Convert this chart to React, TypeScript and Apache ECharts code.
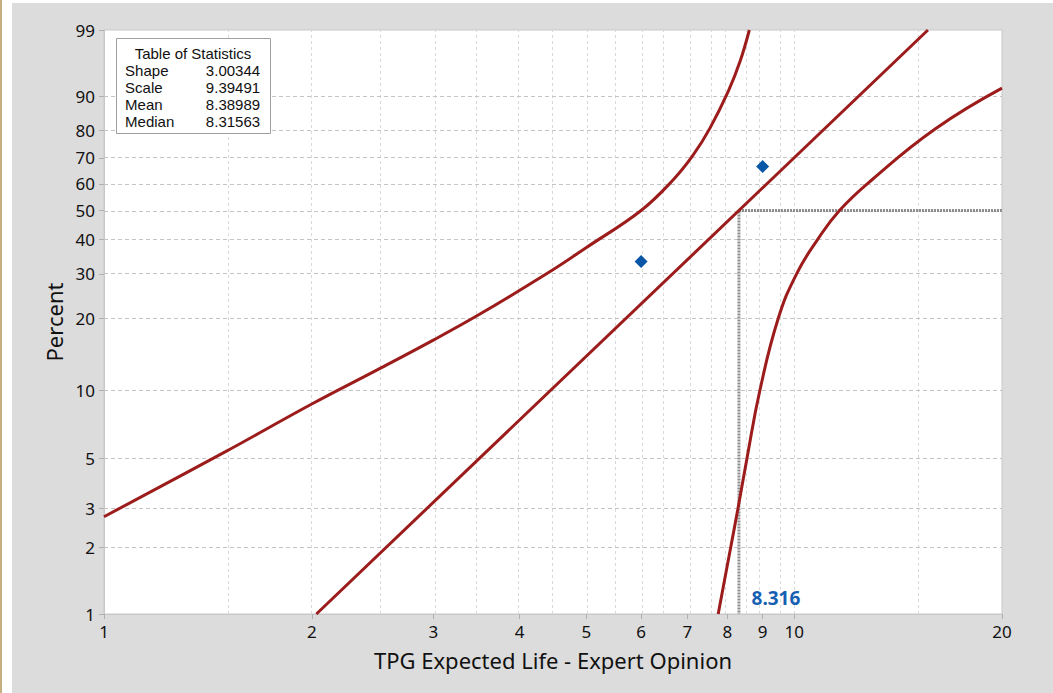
import React, { useEffect, useRef } from "react";
import * as echarts from "echarts";

// Weibull fit statistics
const SHAPE = 3.00344;
const SCALE = 9.39491;
const MEAN = 8.38989;
const MEDIAN = 8.31563;

// Observed failure times and their plotting positions (%)
const failTimes = [6, 9];
const failPercents = [33.33, 66.67];

// 95% confidence bounds (time, percent)
const upperX = [1, 1.5, 2, 2.5, 3, 3.5, 4.43, 5.0, 6.0, 6.68, 7.14, 7.55, 8.03, 8.35, 8.61];
const upperPct = [2.75, 5.37, 8.7, 12.3, 16.3, 20.8, 30.6, 37.5, 50, 61.6, 71.1, 80.7, 91.2, 96.4, 99];
const lowerX = [7.76, 8.09, 8.29, 8.54, 8.92, 9.48, 10.08, 10.81, 11.63, 12.95, 16.0, 20];
const lowerPct = [1, 2, 3, 5, 10, 20, 30, 40, 50, 61.5, 80.4, 91.8];

// Axis ticks and grid positions
const percentTicks = [1, 2, 3, 5, 10, 20, 30, 40, 50, 60, 70, 80, 90, 99];
const timeTicks = [1, 2, 3, 4, 5, 6, 7, 8, 9, 10, 20];
const timeGrid = [1.5, 2, 2.5, 3, 3.5, 4, 4.5, 5, 5.5, 6, 6.5, 7, 7.5, 8, 8.5, 9, 9.5, 10, 15];

const statLabels = ["Shape", "Scale", "Mean", "Median"];
const statValues = [SHAPE, SCALE, MEAN, MEDIAN];

const X_MIN = 1;
const X_MAX = 20;
const P_MIN = 1;
const P_MAX = 99;

// Log-time and Weibull-probability transforms
const lx = (t: number) => Math.log10(t);
const wp = (p: number) => Math.log(-Math.log(1 - p / 100));
const invWp = (v: number) => 100 * (1 - Math.exp(-Math.exp(v)));
const weibullTime = (p: number) => SCALE * Math.pow(-Math.log(1 - p / 100), 1 / SHAPE);

const FONT = "'Noto Sans', sans-serif";
const STAT_FONT = "'Liberation Sans', Arial, sans-serif";
const RED = "#9c1c1c";
const BLUE = "#0a56a6";

export default function App() {
  const ref = useRef<HTMLDivElement>(null);

  useEffect(() => {
    if (!ref.current) return;
    const chart = echarts.init(ref.current, undefined, { renderer: "svg" });

    const fitLine = [P_MIN, P_MAX].map((p) => [lx(weibullTime(p)), wp(p)]);
    const upper = upperX.map((t, i) => [lx(t), wp(upperPct[i])]);
    const lower = lowerX.map((t, i) => [lx(t), wp(lowerPct[i])]);
    const points = failTimes.map((t, i) => [lx(t), wp(failPercents[i])]);
    const medianGuide = [
      [lx(X_MAX), wp(50)],
      [lx(MEDIAN), wp(50)],
      [lx(MEDIAN), wp(P_MIN)],
    ];

    const statFont = `15px ${STAT_FONT}`;
    const ROW = 17;
    const statsChildren: any[] = [
      {
        type: "rect",
        z: 100,
        shape: { x: 0, y: 0, width: 154, height: 95 },
        style: { fill: "#ffffff", stroke: "#a0a0a0", lineWidth: 1 },
      },
      {
        type: "text",
        z: 101,
        x: 76.5,
        y: 15,
        style: {
          text: "Table of Statistics",
          font: statFont,
          fill: "#111",
          align: "center",
          verticalAlign: "middle",
        },
      },
    ];
    statLabels.forEach((lab, i) => {
      const y = 32 + i * ROW;
      statsChildren.push({
        type: "text",
        z: 101,
        x: 8.6,
        y,
        style: { text: lab, font: statFont, fill: "#111", verticalAlign: "middle" },
      });
      statsChildren.push({
        type: "text",
        z: 101,
        x: 143.6,
        y,
        style: {
          text: statValues[i].toFixed(5),
          font: statFont,
          fill: "#111",
          align: "right",
          verticalAlign: "middle",
        },
      });
    });

    chart.setOption({
      animation: false,
      backgroundColor: "#dcdcdc",
      textStyle: { fontFamily: FONT },
      grid: {
        left: 92,
        right: 51,
        top: 27,
        bottom: 79,
        show: true,
        backgroundColor: "#ffffff",
        borderColor: "#c8c8c8",
        borderWidth: 1,
      },
      xAxis: {
        type: "value",
        min: lx(X_MIN),
        max: lx(X_MAX),
        name: "TPG Expected Life - Expert Opinion",
        nameLocation: "middle",
        nameGap: 35,
        nameTextStyle: { fontSize: 22, color: "#111", fontFamily: FONT },
        axisLine: { show: true, onZero: false, lineStyle: { color: "#c8c8c8", width: 1 } },
        axisTick: {
          show: true,
          length: 5,
          lineStyle: { color: "#b0b0b0" },
          customValues: timeTicks.map(lx),
        },
        axisLabel: {
          show: true,
          margin: 9,
          fontSize: 17,
          color: "#111",
          fontFamily: FONT,
          customValues: timeTicks.map(lx),
          formatter: (v: number) => String(Math.round(Math.pow(10, v))),
        },
        splitLine: { show: false },
      },
      yAxis: {
        type: "value",
        min: wp(P_MIN),
        max: wp(P_MAX),
        name: "Percent",
        nameLocation: "middle",
        nameGap: 32,
        nameTextStyle: { fontSize: 22, color: "#111", fontFamily: FONT },
        axisLine: { show: true, onZero: false, lineStyle: { color: "#c8c8c8", width: 1 } },
        axisTick: {
          show: true,
          length: 5,
          lineStyle: { color: "#b0b0b0" },
          customValues: percentTicks.map(wp),
        },
        axisLabel: {
          show: true,
          margin: 9,
          fontSize: 17,
          color: "#111",
          fontFamily: FONT,
          customValues: percentTicks.map(wp),
          formatter: (v: number) => String(Math.round(invWp(v))),
        },
        splitLine: { show: false },
      },
      series: [
        {
          // grid lines
          type: "line",
          data: [[lx(X_MIN), wp(P_MIN)]],
          showSymbol: false,
          symbol: "none",
          lineStyle: { opacity: 0 },
          z: 1,
          silent: true,
          markLine: {
            silent: true,
            z: 1,
            symbol: ["none", "none"],
            label: { show: false },
            animation: false,
            data: [
              ...timeGrid.map((t) => ({
                xAxis: lx(t),
                lineStyle: { color: "#d9d9d9", width: 1, type: [3, 3] },
              })),
              ...percentTicks
                .filter((p) => p !== P_MIN && p !== P_MAX)
                .map((p) => ({
                  yAxis: wp(p),
                  lineStyle: { color: "#c4c4c4", width: 1, type: [4, 3] },
                })),
            ],
          },
        },
        {
          // median guide
          type: "line",
          data: medianGuide,
          symbol: "none",
          z: 2,
          lineStyle: { color: "#8e8e8e", width: 3, type: [2, 1] },
          silent: true,
        },
        {
          type: "line",
          data: fitLine,
          symbol: "none",
          z: 3,
          lineStyle: { color: RED, width: 3 },
        },
        {
          type: "line",
          data: upper,
          symbol: "none",
          smooth: 0.4,
          z: 3,
          lineStyle: { color: RED, width: 3 },
        },
        {
          type: "line",
          data: lower,
          symbol: "none",
          smooth: 0.45,
          z: 3,
          lineStyle: { color: RED, width: 3 },
        },
        {
          type: "scatter",
          data: points,
          symbol: "diamond",
          symbolSize: 13,
          z: 4,
          itemStyle: { color: BLUE, opacity: 1, borderWidth: 0 },
        },
        {
          // median value label
          type: "scatter",
          data: [[lx(MEDIAN), wp(P_MIN)]],
          symbolSize: 0,
          z: 4,
          silent: true,
          itemStyle: { opacity: 1 },
          label: {
            show: true,
            position: "top",
            distance: 7,
            offset: [37, 0],
            formatter: () => MEDIAN.toFixed(3),
            color: "#1660b3",
            fontWeight: "bold",
            fontSize: 19,
            fontFamily: FONT,
          },
        },
      ],
      graphic: [
        {
          type: "group",
          left: 104,
          top: 35,
          z: 100,
          children: statsChildren,
        },
      ],
    });

    return () => chart.dispose();
  }, []);

  return (
    <div
      style={{
        position: "fixed",
        left: 0,
        top: 0,
        width: 1053,
        height: 693,
        background: "#ffffff",
        overflow: "hidden",
      }}
    >
      <div
        style={{
          position: "absolute",
          left: 0,
          top: 0,
          width: 2,
          height: 693,
          background: "#c4b07c",
        }}
      />
      <div
        ref={ref}
        style={{ position: "absolute", left: 12, top: 3, width: 1041, height: 690 }}
      />
    </div>
  );
}
